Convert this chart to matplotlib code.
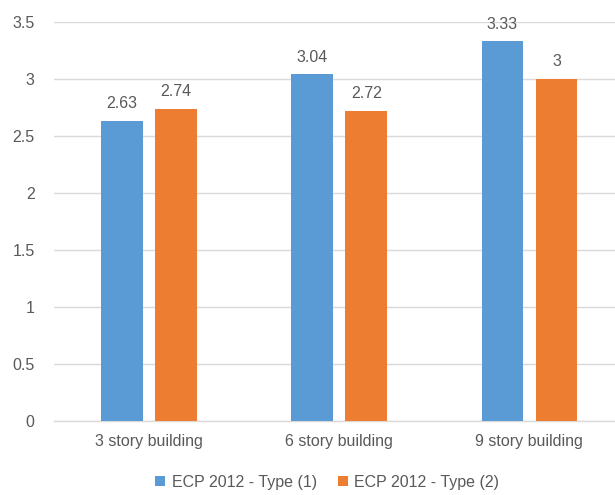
import matplotlib

matplotlib.use("Agg")
import matplotlib.pyplot as plt
import numpy as np

categories = ["3 story building", "6 story building", "9 story building"]
type1 = [2.63, 3.04, 3.33]
type2 = [2.74, 2.72, 3.00]
series_names = ["ECP 2012 - Type (1)", "ECP 2012 - Type (2)"]
yticks = [0, 0.5, 1, 1.5, 2, 2.5, 3, 3.5]

BLUE = "#5B9BD5"
ORANGE = "#ED7D31"
TEXT = "#595959"
GRID = "#D9D9D9"

plt.rcParams["font.family"] = ["Liberation Sans", "DejaVu Sans"]
plt.rcParams["font.size"] = 11

fig = plt.figure(figsize=(6.15, 4.95), dpi=100)
ax = fig.add_axes([0.0878, 0.1505, 0.9122, 0.8051])

x = np.arange(len(categories))
width = 0.22
offset = 0.142
b1 = ax.bar(x - offset, type1, width, color=BLUE, label=series_names[0], zorder=3)
b2 = ax.bar(x + offset, type2, width, color=ORANGE, label=series_names[1], zorder=3)

for bars, vals in ((b1, type1), (b2, type2)):
    for rect, v in zip(bars, vals):
        ax.annotate(f"{v:g}", (rect.get_x() + rect.get_width() / 2, v),
                    xytext=(0, 7), textcoords="offset points",
                    ha="center", va="bottom", color=TEXT, fontsize=11.5)

ax.set_ylim(0, 3.5)
ax.set_yticks(yticks)
ax.set_yticklabels([f"{t:g}" for t in yticks])
ax.set_xlim(-0.5, 2.45)
ax.set_xticks(x)
ax.set_xticklabels(categories)
ax.tick_params(axis="y", length=0, pad=14, colors=TEXT, labelsize=11.5)
ax.tick_params(axis="x", length=0, pad=10, colors=TEXT, labelsize=11.5)
ax.grid(axis="y", color=GRID, linewidth=1, zorder=0)
for side in ("top", "right", "left"):
    ax.spines[side].set_visible(False)
ax.spines["bottom"].set_color(GRID)
ax.spines["bottom"].set_linewidth(1)

fig.legend(handles=[b1, b2], labels=series_names, loc="lower center",
           bbox_to_anchor=(0.532, -0.018), ncol=2, frameon=False,
           handlelength=0.65, handleheight=0.65, handletextpad=0.4,
           columnspacing=1.3, fontsize=11.5, labelcolor=TEXT)

fig.savefig("out.png", dpi=100)
